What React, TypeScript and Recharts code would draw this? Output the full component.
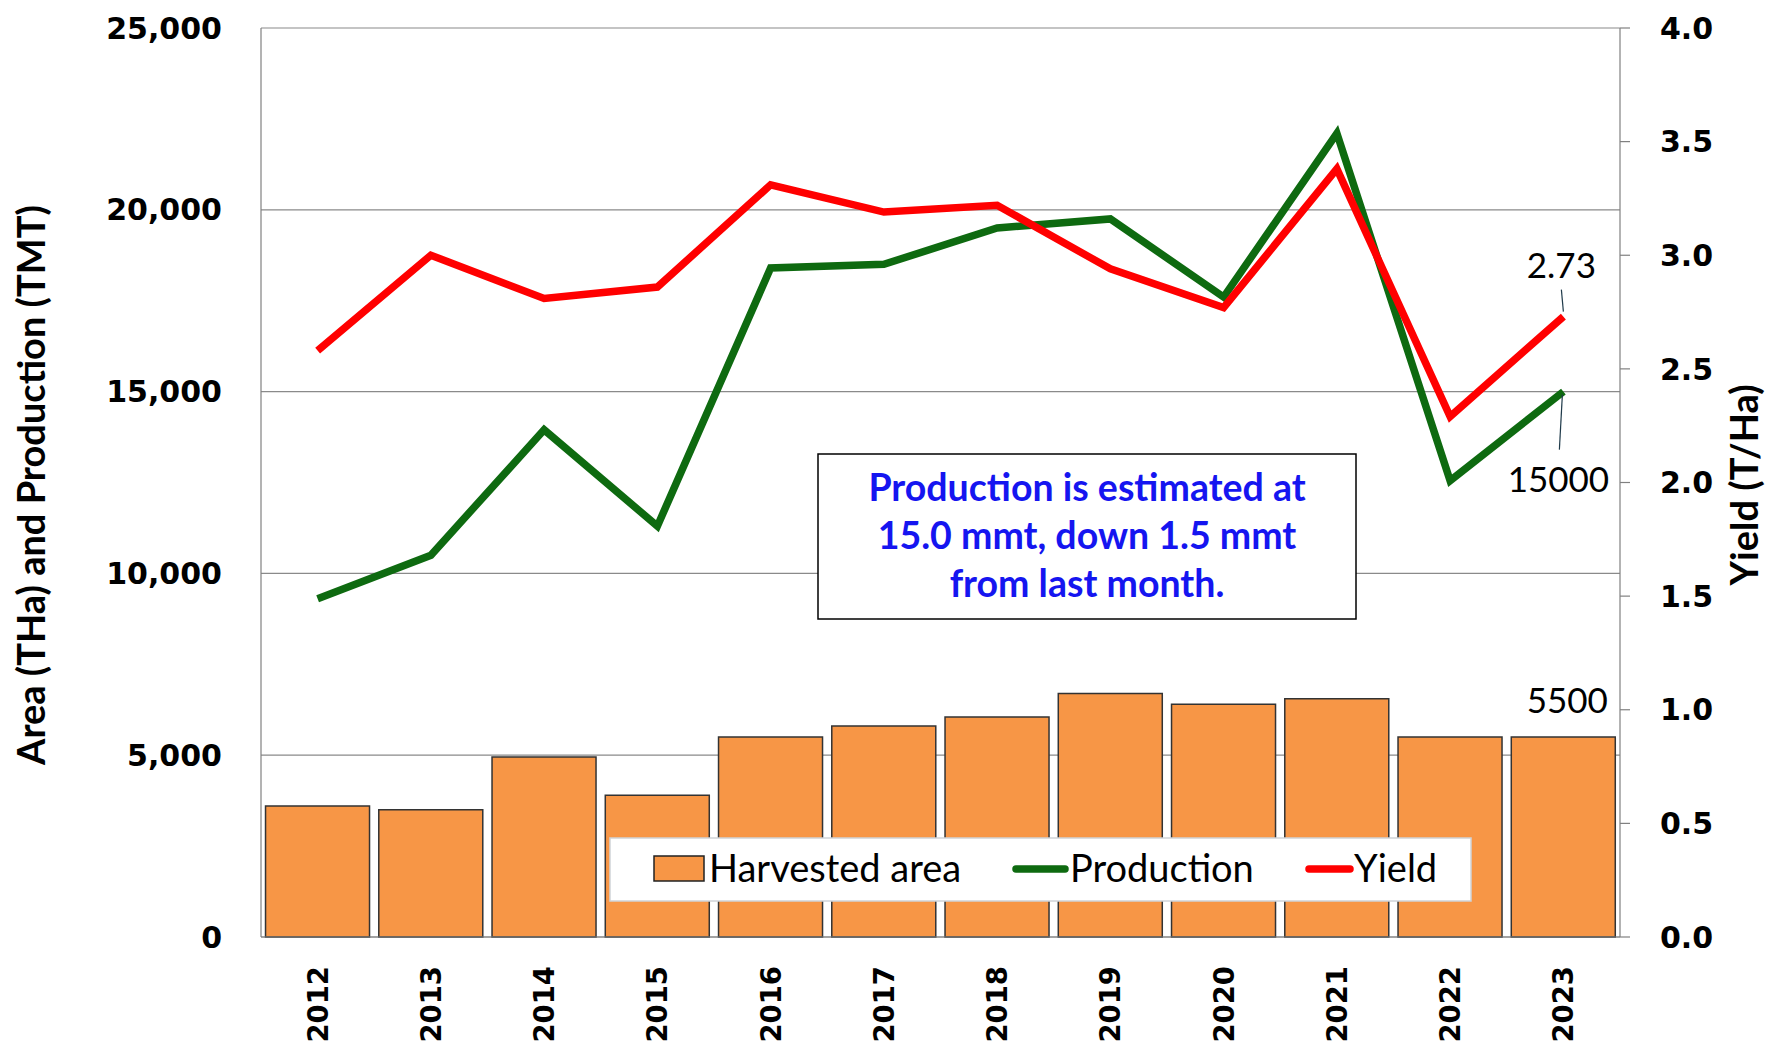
import { ComposedChart, Bar, Line, XAxis, YAxis, CartesianGrid, LabelList, Customized } from 'recharts';

const years = ['2012', '2013', '2014', '2015', '2016', '2017', '2018', '2019', '2020', '2021', '2022', '2023'];
const harvestedArea = [3600, 3500, 4950, 3900, 5500, 5800, 6050, 6700, 6400, 6550, 5500, 5500];
const production = [9300, 10500, 13950, 11300, 18400, 18500, 19500, 19750, 17600, 22100, 12550, 15000];
const yieldValues = [2.58, 3.0, 2.81, 2.86, 3.31, 3.19, 3.22, 2.94, 2.77, 3.38, 2.29, 2.73];

const leftTicks = [0, 5000, 10000, 15000, 20000, 25000];
const rightTicks = [0, 0.5, 1, 1.5, 2, 2.5, 3, 3.5, 4];

const noteLines = ['Production is estimated at', '15.0 mmt, down 1.5 mmt', 'from last month.'];

const AREA_COLOR = '#F79646';
const PROD_COLOR = '#0e6a10';
const YIELD_COLOR = '#FF0000';
const AXIS_GRAY = '#808080';
const TICK_FONT = "'DejaVu Sans', Verdana, sans-serif";
const TEXT_FONT = "Lato, 'Open Sans', sans-serif";

const data = years.map((year, i) => ({
  year,
  area: harvestedArea[i],
  production: production[i],
  yield: yieldValues[i],
}));

const lastIdx = years.length - 1;

const YearTick = ({ x, y, payload }: any) => {
  const ty = y + 29;
  return (
    <text
      x={x}
      y={ty}
      dy={10}
      transform={`rotate(-90, ${x}, ${ty})`}
      textAnchor="end"
      fontFamily={TICK_FONT}
      fontWeight="bold"
      fontSize={27.5}
      fill="#000"
    >
      {payload.value}
    </text>
  );
};

// end-of-series labels with the little leader lines
const YieldLabel = ({ x, y, value, index }: any) => {
  if (index !== lastIdx) return null;
  return (
    <g>
      <line x1={x - 2} y1={y - 27} x2={x} y2={y - 5} stroke="#1f3a4a" strokeWidth={1.2} />
      <text x={x - 2} y={y - 39} textAnchor="middle" fontFamily={TEXT_FONT} fontSize={35} fill="#000">
        {value.toFixed(2)}
      </text>
    </g>
  );
};

const ProductionLabel = ({ x, y, value, index }: any) => {
  if (index !== lastIdx) return null;
  return (
    <g>
      <line x1={x - 1} y1={y + 3} x2={x - 4} y2={y + 58} stroke="#1f3a4a" strokeWidth={1.2} />
      <text x={x - 5} y={y + 100} textAnchor="middle" fontFamily={TEXT_FONT} fontSize={35} fill="#000">
        {value}
      </text>
    </g>
  );
};

const AreaLabel = ({ x, y, width, value, index }: any) => {
  if (index !== lastIdx) return null;
  return (
    <text x={x + width / 2 + 4} y={y - 24} textAnchor="middle" fontFamily={TEXT_FONT} fontSize={35} fill="#000">
      {value}
    </text>
  );
};

const NoteBox = () => (
  <g>
    <rect x={818} y={454} width={538} height={165} fill="#fff" stroke="#000" strokeWidth={1.5} />
    {noteLines.map((line, i) => (
      <text
        key={line}
        x={1087}
        y={501 + i * 48}
        textAnchor="middle"
        fontFamily={TEXT_FONT}
        fontWeight="bold"
        fontSize={37.5}
        fill="#1515F0"
      >
        {line}
      </text>
    ))}
  </g>
);

const LegendBox = () => (
  <svg
    width={1767}
    height={1051}
    style={{ position: 'absolute', left: 0, top: 0, pointerEvents: 'none' }}
  >
    <g fontFamily={TEXT_FONT} fontSize={38} fill="#000">
      <rect x={610} y={838} width={861} height={63} fill="#fff" stroke="#cfd3d8" strokeWidth={1.5} />
      <rect x={654} y={856} width={50} height={25} fill={AREA_COLOR} stroke="#222" strokeWidth={1.5} />
      <text x={709} y={882}>Harvested area</text>
      <line x1={1016} y1={869} x2={1065} y2={869} stroke={PROD_COLOR} strokeWidth={7.5} strokeLinecap="round" />
      <text x={1070} y={882}>Production</text>
      <line x1={1309} y1={869} x2={1350} y2={869} stroke={YIELD_COLOR} strokeWidth={7.5} strokeLinecap="round" />
      <text x={1354} y={882}>Yield</text>
    </g>
  </svg>
);

const AxisTitles = () => (
  <g fontFamily={TEXT_FONT} fontWeight="bold" fontSize={38} fill="#000">
    <text x={45} y={485} textAnchor="middle" transform="rotate(-90, 45, 485)">
      Area (THa) and Production (TMT)
    </text>
    <text x={1758} y={485} textAnchor="middle" transform="rotate(-90, 1758, 485)">
      Yield (T/Ha)
    </text>
  </g>
);

export default function App() {
  return (
    <div style={{ position: 'absolute', left: 0, top: 0, width: 1767, height: 1051, background: '#fff' }}>
      <ComposedChart
        width={1767}
        height={1051}
        data={data}
        margin={{ top: 28, right: 0, bottom: 0, left: 0 }}
        barCategoryGap="4%"
      >
        <CartesianGrid yAxisId="left" vertical={false} stroke="#8a8a8a" strokeWidth={1.2} />
        <XAxis
          dataKey="year"
          height={114}
          axisLine={{ stroke: AXIS_GRAY, strokeWidth: 1.2 }}
          tickLine={false}
          tickSize={0}
          tickMargin={0}
          tick={<YearTick />}
          interval={0}
        />
        <YAxis
          yAxisId="left"
          width={261}
          domain={[0, 25000]}
          ticks={leftTicks}
          tickFormatter={(v: number) => v.toLocaleString('en-US')}
          axisLine={{ stroke: AXIS_GRAY, strokeWidth: 1.2 }}
          tickLine={false}
          tickSize={0}
          tickMargin={39}
          tick={{ fontFamily: TICK_FONT, fontWeight: 'bold', fontSize: 30, fill: '#000' }}
        />
        <YAxis
          yAxisId="right"
          orientation="right"
          width={147}
          domain={[0, 4]}
          ticks={rightTicks}
          tickFormatter={(v: number) => v.toFixed(1)}
          axisLine={{ stroke: AXIS_GRAY, strokeWidth: 1.2 }}
          tickLine={{ stroke: AXIS_GRAY, strokeWidth: 1.2 }}
          tickSize={10}
          tickMargin={30}
          tick={{ fontFamily: TICK_FONT, fontWeight: 'bold', fontSize: 30, fill: '#000' }}
        />
        <Bar yAxisId="left" dataKey="area" fill={AREA_COLOR} stroke="#333" strokeWidth={1.5} isAnimationActive={false}>
          <LabelList dataKey="area" content={<AreaLabel />} />
        </Bar>
        <Line
          yAxisId="left"
          type="linear"
          dataKey="production"
          stroke={PROD_COLOR}
          strokeWidth={7.5}
          dot={false}
          activeDot={false}
          isAnimationActive={false}
        >
          <LabelList dataKey="production" content={<ProductionLabel />} />
        </Line>
        <Line
          yAxisId="right"
          type="linear"
          dataKey="yield"
          stroke={YIELD_COLOR}
          strokeWidth={7.5}
          dot={false}
          activeDot={false}
          isAnimationActive={false}
        >
          <LabelList dataKey="yield" content={<YieldLabel />} />
        </Line>
        <Customized component={NoteBox} />
        <Customized component={AxisTitles} />
      </ComposedChart>
      <LegendBox />
    </div>
  );
}
